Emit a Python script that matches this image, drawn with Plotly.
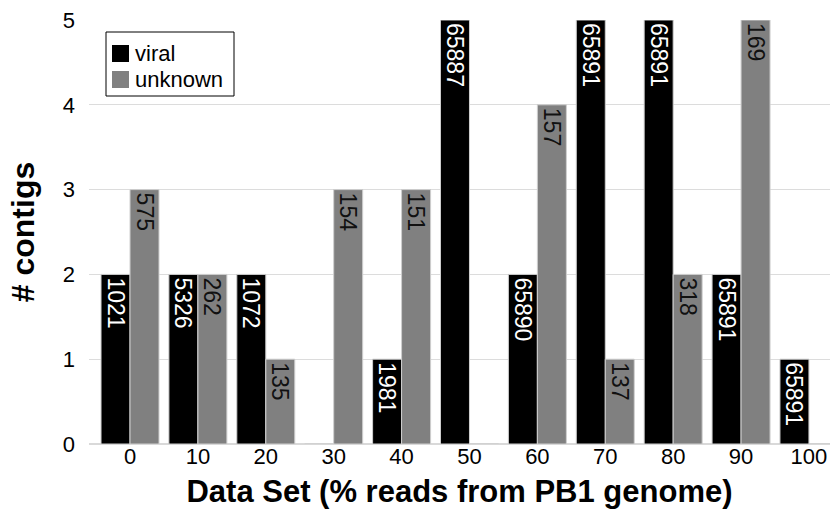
import plotly.graph_objects as go

categories = ["0", "10", "20", "30", "40", "50", "60", "70", "80", "90", "100"]
viral = [2, 2, 2, 0, 1, 5, 2, 5, 5, 2, 1]
unknown = [3, 2, 1, 3, 3, 0, 4, 1, 2, 5, 0]
viral_labels = ["1021", "5326", "1072", "", "1981", "65887", "65890", "65891", "65891", "65891", "65891"]
unknown_labels = ["575", "262", "135", "154", "151", "", "157", "137", "318", "169", ""]
series_names = ["viral", "unknown"]
series_colors = ["#000000", "#808080"]

BASE = "Liberation Sans, Arial, sans-serif"
NARROW = "Liberation Sans Narrow, Arial Narrow, Liberation Sans, sans-serif"

W, H = 830, 514
ML, MR, MT, MB = 89, 0, 20, 70


def px(x):
    return (x - ML) / (W - ML - MR)


def py(y):
    return (H - MB - y) / (H - MT - MB)


fig = go.Figure()
for name, vals, labels, color, tcolor in [
    (series_names[0], viral, viral_labels, series_colors[0], "#ffffff"),
    (series_names[1], unknown, unknown_labels, series_colors[1], "#111111"),
]:
    fig.add_trace(go.Bar(
        name=name, x=categories, y=vals, text=labels,
        marker=dict(color=color, line=dict(color="#cfcfcf", width=1)),
        textposition="inside", insidetextanchor="end", textangle=90,
        textfont=dict(color=tcolor, size=23, family=NARROW),
        constraintext="none", showlegend=False,
    ))

# legend drawn as box + swatches + text
shapes = [dict(type="rect", xref="paper", yref="paper",
               x0=px(106), x1=px(234), y0=py(32), y1=py(96),
               line=dict(color="#000000", width=1), fillcolor="white", layer="above")]
annotations = []
sw_top = [45, 71]
for i, (name, color) in enumerate(zip(series_names, series_colors)):
    shapes.append(dict(type="rect", xref="paper", yref="paper",
                       x0=px(112), x1=px(129), y0=py(sw_top[i]), y1=py(sw_top[i] + 17),
                       line=dict(width=0), fillcolor=color, layer="above"))
    annotations.append(dict(text=name, xref="paper", yref="paper",
                            x=px(133), y=py(sw_top[i] + 8.5), xanchor="left", yanchor="middle",
                            showarrow=False, font=dict(size=22, family=BASE, color="#000000")))

fig.update_layout(
    width=W, height=H,
    margin=dict(l=ML, r=MR, t=MT, b=MB, autoexpand=False),
    paper_bgcolor="white", plot_bgcolor="white",
    barmode="group", bargap=0.146, bargroupgap=0,
    font=dict(family=BASE, color="#000000"),
    showlegend=False,
    shapes=shapes, annotations=annotations,
    xaxis=dict(
        type="category", range=[-0.604, 10.31], automargin=False,
        showgrid=False, showline=False, ticks="",
        tickfont=dict(size=22), ticklabelstandoff=-3,
        title=dict(text="<b>Data Set (% reads from PB1 genome)</b>",
                   font=dict(size=31), standoff=12),
    ),
    yaxis=dict(
        range=[0, 5], dtick=1, showgrid=True, gridcolor="#dcdcdc", gridwidth=1,
        zeroline=True, zerolinecolor="#d9d9d9", zerolinewidth=2, automargin=False,
        showline=False, ticks="", ticklabelstandoff=13,
        tickfont=dict(size=22),
        title=dict(text="<b># contigs</b>", font=dict(size=32), standoff=18),
    ),
)

fig.write_html("out.html", config={"displayModeBar": False},
               post_script="document.body.style.margin='0';")
